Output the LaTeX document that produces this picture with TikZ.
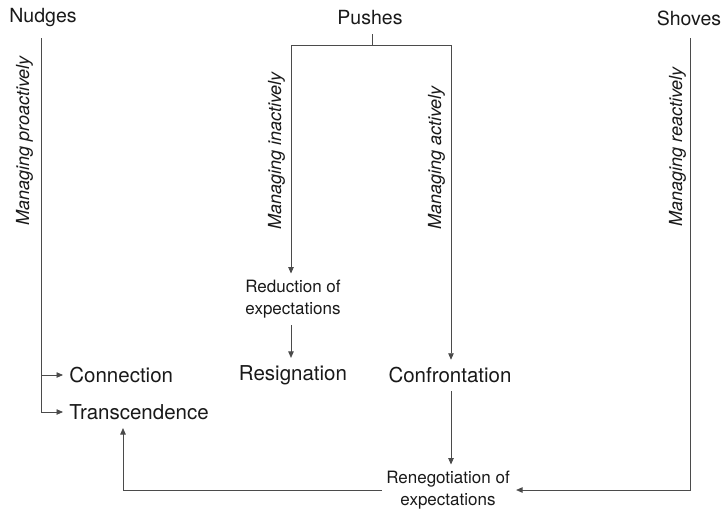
\documentclass[tikz,border=0pt]{standalone}
\usepackage{fontspec}
\setmainfont{TeX Gyre Heros}
\usepackage{xcolor}
\usetikzlibrary{arrows.meta,calc,positioning}
\definecolor{linegray}{RGB}{75,75,75}
\definecolor{textblack}{RGB}{25,25,25}

\begin{document}
\begin{tikzpicture}[x=1pt,y=-1pt,>={Triangle[length=6.5pt,width=5.5pt]},line width=0.8pt,draw=linegray]
\tikzstyle{every node}=[text=textblack,inner sep=0pt]
\tikzstyle{head}=[font=\fontsize{19.5}{23}\selectfont]
\tikzstyle{outcome}=[font=\fontsize{20.5}{24}\selectfont]
\tikzstyle{midstep}=[font=\fontsize{17}{22}\selectfont,align=center]
\tikzstyle{how}=[font=\fontsize{18}{22}\selectfont\itshape,rotate=90,anchor=base west]

\useasboundingbox (0,0) rectangle (726,512);

\node[head] (nudges) at (43,18) {Nudges};
\node[head] (pushes) at (370,18) {Pushes};
\node[head] (shoves) at (689,18) {Shoves};

\node[outcome,anchor=west] (connection) at (69,375) {Connection};
\node[outcome,anchor=west] (transcendence) at (69,412) {Transcendence};
\node[outcome] (resignation) at (293,375) {Resignation};
\node[outcome] (confrontation) at (450,375) {Confrontation};

\node[midstep] (reduction) at (293,299) {Reduction of\\expectations};
\node[midstep] (renegotiation) at (448,490) {Renegotiation of\\expectations};

\node[how] (proactive) at (29,226) {Managing proactively};
\node[how] (inactive) at (281,230) {Managing inactively};
\node[how] (active) at (441,230) {Managing actively};
\node[how] (reactive) at (682,227) {Managing reactively};

\coordinate (nudgetop) at (41,38);
\coordinate (pushstem) at (372,45);
\coordinate (pushleft) at (291,45);
\coordinate (pushright) at (451,45);
\coordinate (shovetop) at (690,38);
\coordinate (transin) at ($(transcendence.south west)+(54,0)$);

\draw (nudgetop) -- (41,375);
\draw[->] (41,375) -- ([xshift=-6pt]connection.west);
\draw[->] (41,375) |- ([xshift=-6pt]transcendence.west);

\draw (372,34) -- (pushstem);
\draw (pushleft) -- (pushright);
\draw[->] (pushleft) -- ([yshift=6pt]pushleft |- reduction.north);
\draw[->] (pushright) -- ([yshift=7pt]pushright |- confrontation.north);
\draw[->] ([yshift=-7pt]pushleft |- reduction.south) -- ([yshift=7pt]pushleft |- resignation.north);
\draw[->] ([yshift=-8pt]pushright |- confrontation.south) -- ([yshift=6pt]pushright |- renegotiation.north);

\draw[->] (shovetop) |- ([xshift=6pt]renegotiation.east);
\draw[->] ([xshift=-4pt]renegotiation.west) -| ([yshift=-8pt]transin);
\end{tikzpicture}
\end{document}
